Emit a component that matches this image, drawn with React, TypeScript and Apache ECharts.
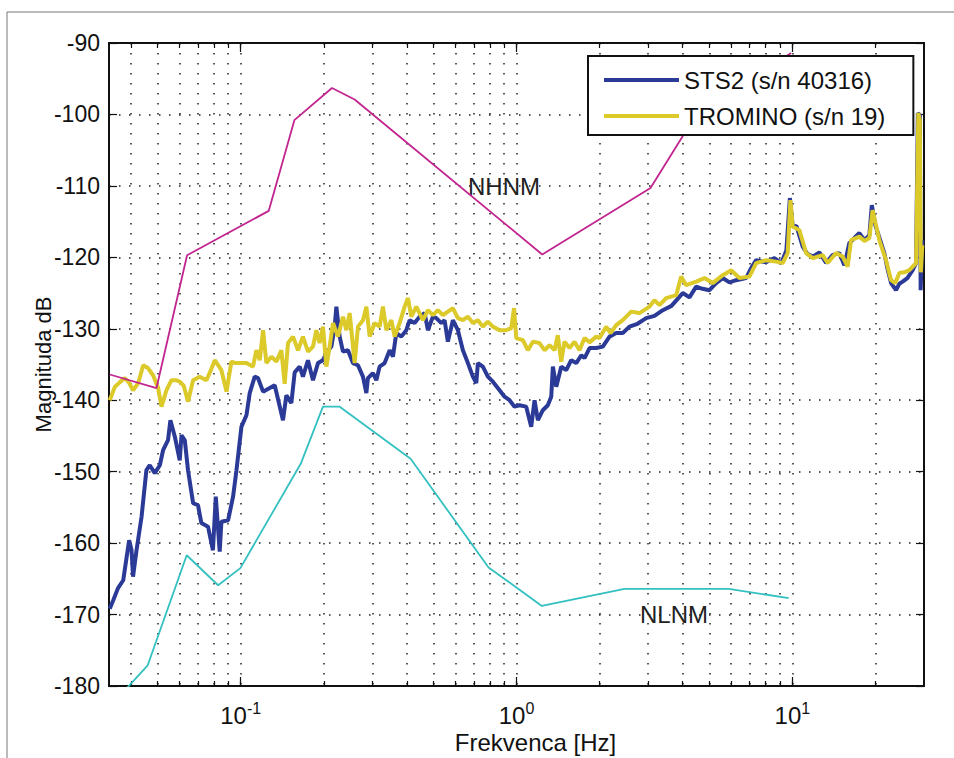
import React, { useEffect, useRef } from "react";
import * as echarts from "echarts";

const FONT = "'Liberation Sans', Arial, Helvetica, sans-serif";

// Axis ranges
const X_MIN = 0.0333;
const X_MAX = 30;
const Y_MIN = -180;
const Y_MAX = -90;
const Y_STEP = 10;

// Decade ticks (labelled) and the 2..9 ticks between them
const decadeTicks = [0.1, 1, 10];
const minorTicks = [
  0.04, 0.05, 0.06, 0.07, 0.08, 0.09,
  0.2, 0.3, 0.4, 0.5, 0.6, 0.7, 0.8, 0.9,
  2, 3, 4, 5, 6, 7, 8, 9, 20,
];
const allTicks = [...minorTicks, ...decadeTicks].sort((a, b) => a - b);

const STS_NAME = "STS2 (s/n 40316)";
const TROMINO_NAME = "TROMINO (s/n 19)";

// STS2 spectrum
const stsFreq = [
  0.0335, 0.0345, 0.0359, 0.0375, 0.0383, 0.0394, 0.0402, 0.0407, 0.0419, 0.0437,
  0.0455, 0.0468, 0.0488, 0.0509, 0.0523, 0.0545, 0.0556, 0.0577, 0.0601, 0.061,
  0.0627, 0.0644, 0.0672, 0.07, 0.072, 0.0761, 0.0793, 0.0812, 0.0839, 0.0851,
  0.09, 0.0938, 0.0965, 0.1006, 0.1049, 0.1078, 0.1124, 0.1155, 0.1205, 0.1274,
  0.1328, 0.1423, 0.1464, 0.1526, 0.1569, 0.1636, 0.1681, 0.1753, 0.1828, 0.1906,
  0.1987, 0.2044, 0.2131, 0.2191, 0.2222, 0.2284, 0.2348, 0.2448, 0.2552, 0.2661,
  0.2774, 0.2854, 0.2892, 0.3015, 0.3102, 0.3188, 0.3324, 0.3467, 0.3563, 0.3665,
  0.3821, 0.3984, 0.4096, 0.4269, 0.4452, 0.4642, 0.4771, 0.4974, 0.5118, 0.5337,
  0.5484, 0.5637, 0.5877, 0.6128, 0.6389, 0.6662, 0.6945, 0.7145, 0.7241, 0.7548,
  0.787, 0.8205, 0.8677, 0.9047, 0.9432, 0.9835, 1.025, 1.084, 1.13, 1.162,
  1.195, 1.245, 1.298, 1.336, 1.354, 1.393, 1.452, 1.514, 1.578, 1.646,
  1.716, 1.764, 1.839, 1.945, 2.054, 2.173, 2.297, 2.427, 2.567, 2.744,
  2.951, 3.162, 3.39, 3.644, 4.005, 4.235, 4.479, 4.721, 5.003, 5.291,
  5.591, 5.912, 6.252, 6.795, 7.087, 7.389, 8.029, 8.606, 9.123, 9.512,
  9.793, 10.03, 10.34, 10.9, 11.33, 11.85, 12.53, 13.25, 13.96, 14.8,
  15.43, 16.09, 16.77, 17.49, 18.24, 19.01, 19.41, 19.98, 20.66, 21.54,
  22.09, 22.79, 23.75, 24.42, 25.1, 26.11, 27.29, 28.07, 28.5, 28.97,
  29.17, 29.58,
];
const stsDb = [
  -169.2, -168.0, -166.3, -165.2, -162.8, -159.6, -161.0, -164.7, -161.0, -156.3,
  -149.8, -149.1, -150.2, -149.1, -147.0, -145.6, -142.8, -145.1, -148.4, -144.9,
  -145.6, -149.8, -154.4, -154.7, -157.2, -157.7, -161.0, -153.5, -161.2, -157.0,
  -156.8, -153.5, -149.8, -143.7, -142.1, -139.0, -136.7, -136.9, -138.8, -138.3,
  -137.9, -142.8, -139.3, -140.4, -136.1, -135.3, -136.7, -134.4, -137.2, -134.8,
  -134.4, -133.4, -132.5, -129.7, -126.9, -131.1, -133.2, -133.0, -134.8, -135.1,
  -136.7, -139.0, -136.9, -136.2, -137.2, -135.3, -134.8, -133.0, -133.9, -130.6,
  -131.1, -130.2, -128.8, -129.2, -128.3, -127.8, -130.2, -128.3, -128.5, -129.2,
  -128.8, -131.8, -128.8, -130.2, -133.0, -134.8, -136.7, -137.6, -134.8, -135.3,
  -136.7, -137.4, -138.6, -139.5, -140.0, -140.9, -140.7, -140.9, -143.7, -140.0,
  -142.8, -141.4, -140.7, -139.5, -135.3, -138.1, -135.3, -135.8, -134.4, -134.8,
  -133.7, -134.1, -132.7, -132.7, -132.5, -131.1, -130.6, -130.6, -129.7, -129.3,
  -128.5, -128.2, -127.4, -126.8, -125.0, -125.6, -124.1, -124.4, -124.6, -123.6,
  -122.9, -123.5, -123.2, -122.9, -121.5, -120.4, -120.7, -120.1, -120.8, -119.0,
  -111.7, -115.7, -115.6, -118.5, -119.5, -119.9, -119.3, -120.8, -119.7, -119.4,
  -121.1, -118.0, -117.3, -116.6, -117.6, -116.9, -112.7, -115.5, -117.2, -119.4,
  -121.5, -123.6, -124.6, -123.7, -123.4, -122.9, -121.8, -120.8, -99.8, -100.1,
  -124.6, -117.6,
];

// TROMINO spectrum
const trominoFreq = [
  0.0335, 0.035, 0.0364, 0.038, 0.0393, 0.0407, 0.0425, 0.0443, 0.0461, 0.0481,
  0.0502, 0.0516, 0.0538, 0.0561, 0.0581, 0.0601, 0.0622, 0.0644, 0.0672, 0.071,
  0.0751, 0.0779, 0.0805, 0.0851, 0.0888, 0.0925, 0.0959, 0.0992, 0.1049, 0.1108,
  0.114, 0.1172, 0.1205, 0.1239, 0.1292, 0.1347, 0.1404, 0.1443, 0.1484, 0.1547,
  0.1613, 0.1681, 0.1753, 0.1828, 0.188, 0.1932, 0.1987, 0.2044, 0.2101, 0.216,
  0.2252, 0.2348, 0.2415, 0.2483, 0.2588, 0.2661, 0.2774, 0.2854, 0.2934, 0.3059,
  0.3188, 0.3278, 0.3373, 0.3516, 0.3614, 0.3768, 0.3928, 0.4039, 0.4154, 0.4331,
  0.4576, 0.4771, 0.4974, 0.5186, 0.5408, 0.5637, 0.5877, 0.6128, 0.6389, 0.6662,
  0.6945, 0.7241, 0.7548, 0.787, 0.8205, 0.8677, 0.9178, 0.9567, 0.9793, 0.9975,
  1.054, 1.099, 1.146, 1.211, 1.263, 1.317, 1.373, 1.411, 1.452, 1.492,
  1.556, 1.622, 1.691, 1.764, 1.839, 1.945, 1.999, 2.113, 2.191, 2.297,
  2.427, 2.604, 2.791, 3.033, 3.162, 3.297, 3.486, 3.79, 3.951, 4.12,
  4.479, 4.799, 5.142, 5.591, 5.997, 6.427, 6.986, 7.389, 8.029, 8.728,
  9.224, 9.616, 9.835, 10.03, 10.6, 11.21, 11.85, 12.88, 13.43, 14.4,
  15.22, 15.86, 16.32, 17.49, 18.24, 19.01, 19.54, 20.66, 21.85, 22.79,
  23.61, 24.42, 25.45, 26.54, 28.07, 28.61, 28.97, 29.21, 29.58,
];
const trominoDb = [
  -140.0, -138.1, -137.5, -136.9, -137.5, -138.6, -137.6, -135.1, -135.5, -136.5,
  -138.3, -140.9, -138.6, -137.2, -137.2, -137.4, -138.0, -140.2, -137.2, -136.7,
  -137.2, -135.8, -134.4, -135.8, -138.8, -134.6, -134.8, -134.8, -134.8, -135.3,
  -133.0, -134.4, -130.2, -134.8, -133.9, -134.6, -133.0, -137.7, -132.0, -131.1,
  -133.0, -131.1, -133.2, -132.5, -130.2, -132.0, -129.7, -135.3, -132.5, -129.2,
  -131.1, -128.3, -130.2, -127.8, -134.8, -129.7, -128.8, -126.9, -131.1, -129.2,
  -129.7, -126.9, -130.2, -128.8, -131.1, -129.2, -126.9, -125.7, -128.3, -126.9,
  -128.8, -127.4, -128.1, -127.4, -128.1, -127.6, -127.1, -128.5, -128.8, -128.3,
  -129.2, -128.8, -129.7, -129.0, -129.7, -130.2, -130.2, -129.9, -127.1, -131.3,
  -131.6, -133.0, -131.8, -132.0, -133.0, -132.3, -133.0, -130.9, -134.6, -131.8,
  -132.7, -131.8, -133.0, -131.3, -131.9, -131.1, -131.3, -129.7, -130.6, -129.5,
  -128.8, -127.6, -127.8, -126.9, -126.0, -126.7, -125.7, -125.3, -122.7, -123.9,
  -123.4, -122.9, -123.6, -122.5, -121.8, -122.9, -122.7, -120.8, -120.4, -120.6,
  -120.8, -119.4, -112.0, -115.7, -116.2, -119.4, -120.1, -119.7, -120.8, -119.4,
  -119.9, -121.3, -117.6, -117.1, -117.7, -117.3, -113.4, -117.6, -120.4, -123.2,
  -123.6, -122.2, -122.1, -121.8, -120.8, -99.8, -100.8, -122.1, -118.3,
];

// New High Noise Model
const nhnmFreq = [0.0335, 0.0495, 0.0639, 0.1263, 0.1565, 0.2142, 0.2588, 1.239, 3.059, 4.55, 9.9];
const nhnmDb = [-136.4, -138.3, -119.7, -113.5, -100.8, -96.3, -97.9, -119.6, -110.3, -99.6, -91.4];

// New Low Noise Model
const nlnmFreq = [0.0364, 0.046, 0.0637, 0.0828, 0.0997, 0.165, 0.1987, 0.2284, 0.4129, 0.7916, 1.235, 2.462, 5.877, 9.696];
const nlnmDb = [-181.4, -177.1, -161.7, -165.9, -163.5, -148.9, -140.9, -140.9, -148.2, -163.4, -168.8, -166.4, -166.4, -167.7];

const pairs = (xs: number[], ys: number[]) => xs.map((x, i) => [x, ys[i]]);

const AXIS_COLOR = "#111";
const GRID_DOTS = { type: [1.5, 8.5] as number[], color: "#222", width: 1.5 };

function xAxisDef(position: "top" | "bottom", ticks: number[], len: number, withLabels: boolean, withGrid: boolean) {
  return {
    type: "log",
    logBase: 10,
    min: X_MIN,
    max: X_MAX,
    position,
    axisLine: { show: true, onZero: false, lineStyle: { color: AXIS_COLOR, width: 2 } },
    axisTick: { show: true, inside: true, length: len, customValues: ticks, lineStyle: { color: AXIS_COLOR, width: 1.2 } },
    axisLabel: withLabels
      ? {
          show: true,
          customValues: decadeTicks,
          margin: 14,
          formatter: (v: number) => `{b|10}{s|${Math.round(Math.log10(v))}}`,
          rich: {
            b: { fontSize: 24, fontFamily: FONT, color: "#111", lineHeight: 27, verticalAlign: "bottom" },
            s: { fontSize: 16, fontFamily: FONT, color: "#111", lineHeight: 27, verticalAlign: "top" },
          },
        }
      : { show: false },
    splitLine: withGrid ? { show: true, lineStyle: GRID_DOTS } : { show: false },
    ...(withLabels
      ? {
          name: "Frekvenca [Hz]",
          nameLocation: "middle",
          nameGap: 44,
          nameMoveOverlap: false,
          nameTextStyle: { fontSize: 24, fontFamily: FONT, color: "#111", padding: [0, 0, 0, 38] },
        }
      : {}),
  };
}

function yAxisDef(position: "left" | "right", withLabels: boolean) {
  return {
    type: "value",
    min: Y_MIN,
    max: Y_MAX,
    interval: Y_STEP,
    position,
    axisLine: { show: true, onZero: false, lineStyle: { color: AXIS_COLOR, width: 2 } },
    axisTick: { show: true, inside: true, length: 8, lineStyle: { color: AXIS_COLOR, width: 1.2 } },
    axisLabel: withLabels
      ? { show: true, fontSize: 23, fontFamily: FONT, color: "#111", margin: 9 }
      : { show: false },
    splitLine: withLabels ? { show: true, lineStyle: GRID_DOTS } : { show: false },
    ...(withLabels
      ? {
          name: "Magnituda dB",
          nameLocation: "middle",
          nameGap: 55,
          nameMoveOverlap: false,
          nameTextStyle: { fontSize: 22, fontFamily: FONT, color: "#111" },
        }
      : {}),
  };
}

export default function App() {
  const ref = useRef<HTMLDivElement>(null);

  useEffect(() => {
    document.body.style.margin = "0";
    if (!ref.current) return;
    const chart = echarts.init(ref.current, undefined, { renderer: "svg" });

    const option: any = {
      animation: false,
      backgroundColor: "#fff",
      grid: { left: 109, top: 43, right: 30, bottom: 72, containLabel: false, outerBoundsMode: "none" },
      xAxis: [
        xAxisDef("bottom", allTicks, 5, true, true),
        xAxisDef("top", allTicks, 5, false, false),
        xAxisDef("bottom", decadeTicks, 9, false, false),
        xAxisDef("top", decadeTicks, 9, false, false),
      ],
      yAxis: [yAxisDef("left", true), yAxisDef("right", false)],
      legend: {
        data: [STS_NAME, TROMINO_NAME],
        orient: "vertical",
        left: 588,
        top: 56,
        icon: "rect",
        itemWidth: 75,
        itemHeight: 4,
        itemGap: 12,
        padding: [12, 28, 7, 16],
        backgroundColor: "#fff",
        borderColor: "#111",
        borderWidth: 2,
        borderRadius: 0,
        textStyle: { fontSize: 24, fontFamily: FONT, color: "#111" },
        z: 10,
      },
      series: [
        {
          name: STS_NAME,
          type: "line",
          data: pairs(stsFreq, stsDb),
          showSymbol: false,
          color: "#2B3A97",
          lineStyle: { color: "#2B3A97", width: 4 },
          z: 2,
        },
        {
          name: TROMINO_NAME,
          type: "line",
          data: pairs(trominoFreq, trominoDb),
          showSymbol: false,
          color: "#DCC92A",
          lineStyle: { color: "#DCC92A", width: 4 },
          z: 3,
        },
        {
          name: "NHNM",
          type: "line",
          data: pairs(nhnmFreq, nhnmDb),
          showSymbol: false,
          color: "#C2258F",
          lineStyle: { color: "#C2258F", width: 1.8 },
          z: 4,
        },
        {
          name: "NLNM",
          type: "line",
          data: pairs(nlnmFreq, nlnmDb),
          showSymbol: false,
          color: "#33C0C0",
          lineStyle: { color: "#33C0C0", width: 1.8 },
          z: 4,
        },
      ],
      graphic: [
        { type: "line", shape: { x1: 7, y1: 12, x2: 954, y2: 12 }, style: { stroke: "#777", lineWidth: 1 } },
        { type: "line", shape: { x1: 7, y1: 12, x2: 7, y2: 758 }, style: { stroke: "#777", lineWidth: 1 } },
        {
          type: "text",
          x: 504,
          y: 186,
          style: { text: "NHNM", fontSize: 24, fontFamily: FONT, fill: "#222", textAlign: "center", textVerticalAlign: "middle" },
        },
        {
          type: "text",
          x: 674,
          y: 614,
          style: { text: "NLNM", fontSize: 24, fontFamily: FONT, fill: "#222", textAlign: "center", textVerticalAlign: "middle" },
        },
      ],
    };

    chart.setOption(option);
    return () => chart.dispose();
  }, []);

  return <div ref={ref} style={{ width: 954, height: 758 }} />;
}
